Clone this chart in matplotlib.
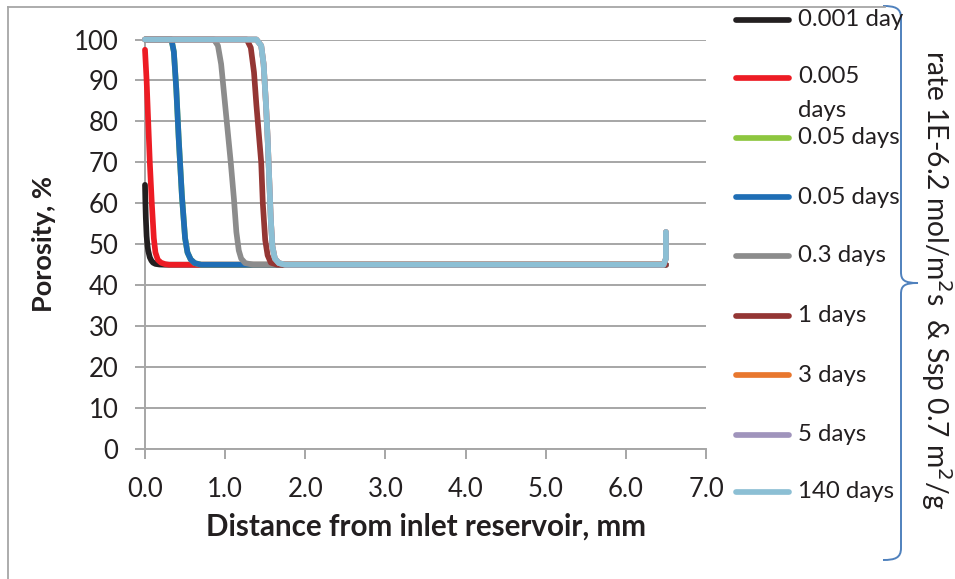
import matplotlib
matplotlib.use("Agg")
import matplotlib.pyplot as plt
from matplotlib.lines import Line2D
from matplotlib.path import Path
from matplotlib.patches import PathPatch

plt.rcParams['font.family'] = ['Lato', 'DejaVu Sans']

# ---- data ----
labels = ["0.001 day", "0.005\ndays", "0.05 days", "0.05 days", "0.3 days",
          "1 days", "3 days", "5 days", "140 days"]
colors = ["#231F20", "#ED1C24", "#8DC63F", "#1F6EB5", "#8C8C8C",
          "#943634", "#E8772E", "#A094BC", "#8CBFD4"]

x_0001 = [0.0, 0.005, 0.01, 0.02, 0.03, 0.04, 0.06, 0.08, 0.1, 0.13, 0.18, 0.25, 6.5]
y_0001 = [64.5, 60.0, 56.5, 52.0, 49.8, 48.4, 46.8, 46.0, 45.5, 45.2, 45.05, 45.0, 45.0]

x_0005 = [0.0, 0.02, 0.04, 0.06, 0.085, 0.11, 0.13, 0.16, 0.2, 0.25, 0.3, 6.5]
y_0005 = [97.5, 90.0, 80.0, 70.0, 60.0, 51.5, 48.0, 46.2, 45.5, 45.15, 45.0, 45.0]

x_005a = [0.0, 0.33, 0.36, 0.39, 0.42, 0.46, 0.5, 0.53, 0.57, 0.62, 0.7, 6.5]
y_005a = [100.0, 100.0, 97.0, 88.0, 76.0, 62.0, 51.5, 48.0, 46.3, 45.4, 45.0, 45.0]

x_005b = [0.0, 0.33, 0.36, 0.39, 0.42, 0.46, 0.5, 0.53, 0.57, 0.62, 0.7, 6.5]
y_005b = [100.0, 100.0, 97.0, 88.0, 76.0, 62.0, 51.5, 48.0, 46.3, 45.4, 45.0, 45.0]

x_03 = [0.0, 0.86, 0.91, 0.95, 0.99, 1.03, 1.07, 1.11, 1.14, 1.17, 1.2, 1.25, 1.35, 6.5]
y_03 = [100.0, 100.0, 98.5, 94.0, 86.0, 78.0, 70.0, 61.0, 53.0, 48.5, 46.5, 45.4, 45.0, 45.0]

x_1 = [0.0, 1.27, 1.32, 1.36, 1.39, 1.42, 1.45, 1.47, 1.5, 1.53, 1.57, 1.65, 6.5]
y_1 = [100.0, 100.0, 98.0, 92.0, 84.0, 77.0, 70.0, 60.0, 51.0, 47.3, 45.5, 45.0, 45.0]

x_3 = [0.0, 1.39, 1.45, 1.48, 1.51, 1.53, 1.55, 1.57, 1.59, 1.62, 1.67, 1.75, 6.47, 6.5, 6.5]
y_3 = [100.0, 100.0, 98.5, 94.0, 84.0, 76.0, 66.0, 56.0, 49.5, 46.5, 45.4, 45.0, 45.0, 46.5, 53.0]

x_5 = [0.0, 1.39, 1.45, 1.48, 1.51, 1.53, 1.55, 1.57, 1.59, 1.62, 1.67, 1.75, 6.47, 6.5, 6.5]
y_5 = [100.0, 100.0, 98.5, 94.0, 84.0, 76.0, 66.0, 56.0, 49.5, 46.5, 45.4, 45.0, 45.0, 46.5, 53.0]

x_140 = [0.0, 1.39, 1.45, 1.48, 1.51, 1.53, 1.55, 1.57, 1.59, 1.62, 1.67, 1.75, 6.47, 6.5, 6.5]
y_140 = [100.0, 100.0, 98.5, 94.0, 84.0, 76.0, 66.0, 56.0, 49.5, 46.5, 45.4, 45.0, 45.0, 46.5, 53.0]

series_x = [x_0001, x_0005, x_005a, x_005b, x_03, x_1, x_3, x_5, x_140]
series_y = [y_0001, y_0005, y_005a, y_005b, y_03, y_1, y_3, y_5, y_140]

xticks = [0, 1, 2, 3, 4, 5, 6, 7]
xticklabels = ["0.0", "1.0", "2.0", "3.0", "4.0", "5.0", "6.0", "7.0"]
yticks = [0, 10, 20, 30, 40, 50, 60, 70, 80, 90, 100]

# ---- figure ----
W, H = 955, 579
fig = plt.figure(figsize=(W / 100, H / 100), dpi=100)

def fx(px):
    return px / W

def fy(py):
    return 1 - py / H

ax_l, ax_r, ax_t, ax_b = 145, 706, 39.5, 449
ax = fig.add_axes([fx(ax_l), fy(ax_b), fx(ax_r) - fx(ax_l), fy(ax_t) - fy(ax_b)])

grid_c = "#A6A6A6"
txt_c = "#231F20"
lw = 4.1
for xs, ys, c in zip(series_x, series_y, colors):
    ax.plot(xs, ys, color=c, lw=lw, solid_joinstyle='round', solid_capstyle='round',
            zorder=3, clip_on=False)

ax.set_xlim(0, 7)
ax.set_ylim(0, 100)
ax.set_xticks(xticks)
ax.set_xticklabels(xticklabels)
ax.set_yticks(yticks)
ax.yaxis.grid(True, color=grid_c, lw=1.4)
ax.set_axisbelow(True)
for s in ["top", "right"]:
    ax.spines[s].set_visible(False)
for s in ["left", "bottom"]:
    ax.spines[s].set_color(grid_c)
    ax.spines[s].set_linewidth(1.4)
ax.tick_params(axis='both', colors=grid_c, labelcolor=txt_c, labelsize=18.5,
               length=7, width=1.4, direction='out')
ax.tick_params(axis='y', pad=12)
ax.tick_params(axis='x', pad=13)
ax.set_xlabel("Distance from inlet reservoir, mm", fontsize=21.3, fontweight='bold',
              color=txt_c, labelpad=8)
ax.set_ylabel("Porosity, %", fontsize=19.5, fontweight='bold', color=txt_c,
              labelpad=13)

# ---- outer frame ----
fig.add_artist(Line2D([fx(8), fx(8)], [fy(7), fy(579)], color="#A6A6A6", lw=1.3))
fig.add_artist(Line2D([fx(8), fx(885)], [fy(7), fy(7)], color="#A6A6A6", lw=1.3))

# ---- legend (manual) ----
leg_y = [20, 78, 137.5, 197, 256, 315.5, 375, 434.5, 492]
for lab, c, yy in zip(labels, colors, leg_y):
    fig.add_artist(Line2D([fx(736), fx(789)], [fy(yy), fy(yy)], color=c, lw=lw,
                          solid_capstyle='round'))
    if "\n" in lab:
        fig.text(fx(798), fy(yy - 12), lab, fontsize=17.3, color=txt_c,
                 ha='left', va='top', linespacing=1.75)
    else:
        fig.text(fx(798), fy(yy), lab, fontsize=17.3, color=txt_c,
                 ha='left', va='center')

# ---- bracket ----
bc = "#4F81BD"
verts = [(883, 6), (895, 6), (901, 8), (901, 18),
         (901, 272),
         (901, 280), (904, 283), (918, 283),
         (904, 283), (901, 286), (901, 294),
         (901, 548),
         (901, 558), (895, 560), (883, 560)]
codes = [Path.MOVETO, Path.CURVE4, Path.CURVE4, Path.CURVE4,
         Path.LINETO,
         Path.CURVE4, Path.CURVE4, Path.CURVE4,
         Path.CURVE4, Path.CURVE4, Path.CURVE4,
         Path.LINETO,
         Path.CURVE4, Path.CURVE4, Path.CURVE4]
verts_f = [(fx(a), fy(b)) for a, b in verts]
fig.add_artist(PathPatch(Path(verts_f, codes), transform=fig.transFigure,
                         facecolor='none', edgecolor=bc, lw=1.4))

fig.text(fx(936), fy(280), "rate 1E-6.2 mol/m$^2$s  & Ssp 0.7 m$^2$/g",
         rotation=-90, fontsize=20.3, color=txt_c, ha='center', va='center')

fig.savefig("out.png", dpi=100)
